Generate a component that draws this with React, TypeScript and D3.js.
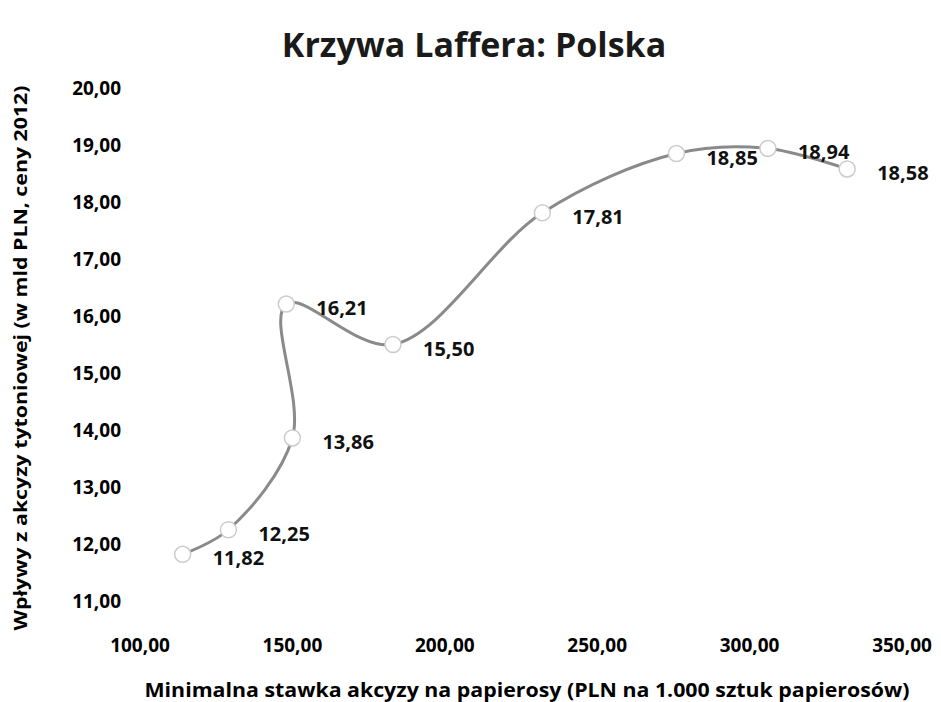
import React, { useEffect, useRef } from 'react';
import * as d3 from 'd3';

const stawka = [114, 129, 150, 148, 183, 232, 276, 306, 332];
const wplywy = [11.82, 12.25, 13.86, 16.21, 15.5, 17.81, 18.85, 18.94, 18.58];
const xTicks = [100, 150, 200, 250, 300, 350];
const yTicks = [11, 12, 13, 14, 15, 16, 17, 18, 19, 20];

const title = 'Krzywa Laffera: Polska';
const xTitle = 'Minimalna stawka akcyzy na papierosy (PLN na 1.000 sztuk papierosów)';
const yTitle = 'Wpływy z akcyzy tytoniowej (w mld PLN, ceny 2012)';

const fmt = (v: number) => v.toFixed(2).replace('.', ',');

export default function App() {
  const ref = useRef<SVGSVGElement>(null);

  useEffect(() => {
    document.body.style.margin = '0';
    const svg = d3.select(ref.current);
    svg.selectAll('*').remove();
    const font = "'Open Sans', sans-serif";

    const x = d3.scaleLinear().domain([100, 350]).range([140, 902]);
    const y = d3.scaleLinear().domain([11, 20]).range([601, 88]);

    svg.append('text')
      .attr('x', 474).attr('y', 57)
      .attr('text-anchor', 'middle')
      .style('font-family', font).style('font-weight', 700).style('font-size', '34px')
      .style('fill', '#1a1a1a')
      .text(title);

    // y tick labels
    svg.append('g').selectAll('text').data(yTicks).join('text')
      .attr('x', 121).attr('y', d => y(d))
      .attr('dy', '0.35em')
      .attr('text-anchor', 'end')
      .style('font-family', font).style('font-weight', 700).style('font-size', '19px')
      .text(d => fmt(d));

    // x tick labels
    svg.append('g').selectAll('text').data(xTicks).join('text')
      .attr('x', d => x(d)).attr('y', 652)
      .attr('text-anchor', 'middle')
      .style('font-family', font).style('font-weight', 700).style('font-size', '19px')
      .text(d => fmt(d));

    svg.append('text')
      .attr('x', 527).attr('y', 697)
      .attr('text-anchor', 'middle')
      .attr('textLength', 765).attr('lengthAdjust', 'spacingAndGlyphs')
      .style('font-family', font).style('font-weight', 700).style('font-size', '20px')
      .text(xTitle);

    svg.append('text')
      .attr('transform', 'translate(27,358) rotate(-90)')
      .attr('text-anchor', 'middle')
      .attr('textLength', 545).attr('lengthAdjust', 'spacingAndGlyphs')
      .style('font-family', font).style('font-weight', 700).style('font-size', '18px')
      .text(yTitle);

    const pts = stawka.map((s, i) => [s, wplywy[i]] as [number, number]);

    const line = d3.line<[number, number]>()
      .x(d => x(d[0])).y(d => y(d[1]))
      .curve(d3.curveCatmullRom.alpha(0.5));

    svg.append('path')
      .datum(pts)
      .attr('d', line)
      .attr('fill', 'none')
      .attr('stroke', '#8a8a8a')
      .attr('stroke-width', 3);

    svg.append('g').selectAll('circle').data(pts).join('circle')
      .attr('cx', d => x(d[0])).attr('cy', d => y(d[1]))
      .attr('r', 8)
      .attr('fill', '#fff')
      .attr('stroke', '#cccccc')
      .attr('stroke-width', 1.5);

    svg.append('g').selectAll('text').data(pts).join('text')
      .attr('x', d => x(d[0]) + 30).attr('y', d => y(d[1]) + 4)
      .attr('dy', '0.35em')
      .style('font-family', font).style('font-weight', 700).style('font-size', '20px')
      .style('fill', '#111')
      .text(d => fmt(d[1]));
  }, []);

  return <svg ref={ref} width={941} height={702} style={{ display: 'block', background: '#fff' }} />;
}
